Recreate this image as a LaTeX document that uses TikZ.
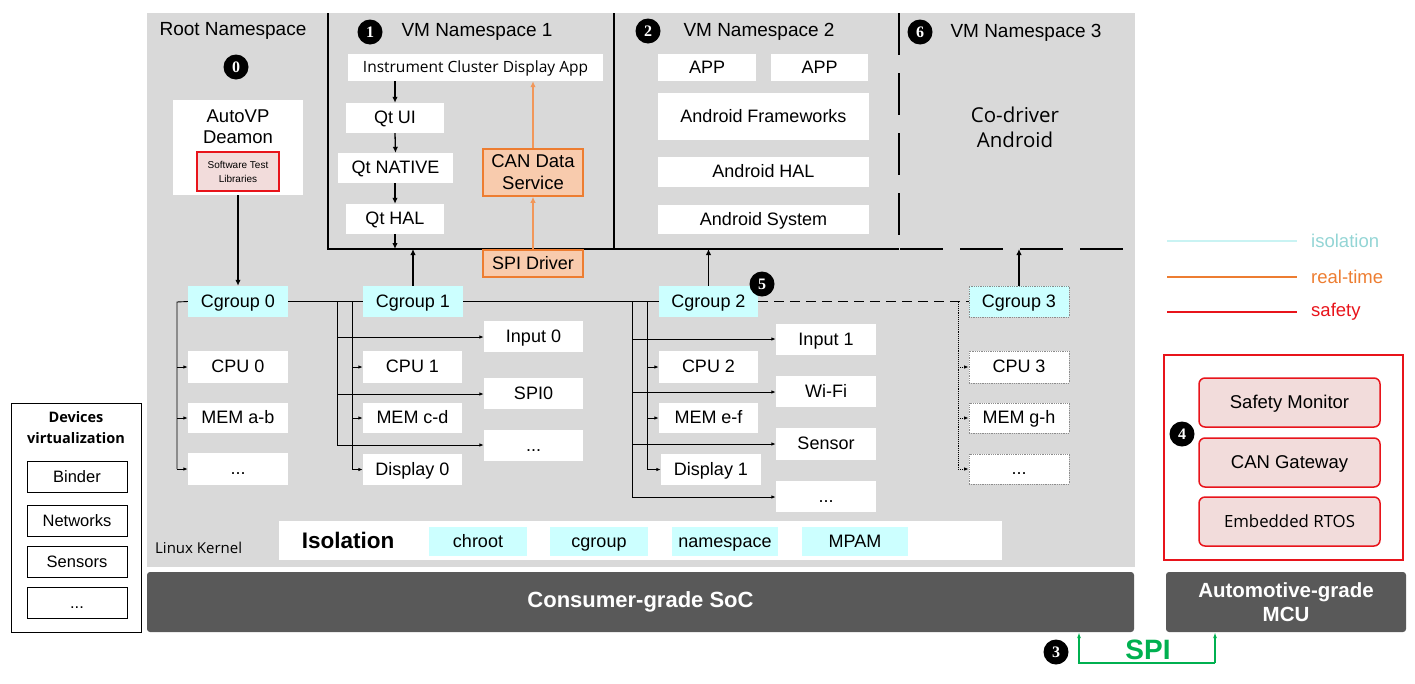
\documentclass[tikz,border=0pt]{standalone}
\usepackage{fontspec}
\setmainfont{Liberation Sans}
\newfontfamily\seg{Open Sans}
\newfontfamily\serifb{Liberation Serif}
\usetikzlibrary{arrows.meta}
\definecolor{bggray}{HTML}{D9D9D9}
\definecolor{darkbox}{HTML}{595959}
\definecolor{cy}{HTML}{CCFFFF}
\definecolor{pinkf}{HTML}{F2DCDB}
\definecolor{orf}{HTML}{F8CBAD}
\definecolor{ord}{HTML}{ED7D31}
\definecolor{redd}{HTML}{E8141B}
\definecolor{grn}{HTML}{00B050}
\definecolor{isoline}{HTML}{C9F3F3}
\definecolor{isotext}{HTML}{93D5D5}
\definecolor{dotgray}{HTML}{8C8C8C}
\newcommand\fs[2]{\fontsize{#1}{#2}\selectfont}
\newcommand\bx[7]{\node[#6, minimum width={(#4)-(#2)}, minimum height={(#5)-(#3)}] (#1) at ({((#2)+(#4))/2},{((#3)+(#5))/2}) {#7};}
\tikzset{
  base/.style={inner sep=0pt, align=center, font=\fs{18}{21}},
  sl/.style={text height=15.5pt, text depth=3.7pt},
  wb/.style={base, sl, fill=white},
  cgb/.style={base, sl, fill=cy},
  dotb/.style={base, sl, fill=white, draw=dotgray, densely dotted, line width=0.8pt},
  orb/.style={base, fill=orf, draw=ord, line width=1.5pt},
  redb/.style={base, sl, fill=pinkf, draw=redd, line width=1.5pt, rounded corners=6pt, font=\fs{18.5}{21}},
  dkb/.style={base, fill=darkbox, rounded corners=3pt, text=white},
  devb/.style={base, sl, fill=white, draw=black, line width=0.8pt, font=\fs{16.5}{19}},
  circ/.style={circle, fill=black, minimum size=25pt, inner sep=0pt, text=white, font=\serifb\bfseries\fs{16}{16}},
  arr/.style={-{Latex[length=6pt,width=5.5pt]}, line width=1.3pt},
  oarr/.style={-{Latex[length=6pt,width=5.5pt]}, line width=1.3pt, draw=ord!80},
  sarr/.style={-{Latex[length=4.5pt,width=3.5pt]}, line width=0.9pt},
  darr/.style={-{Latex[length=4.5pt,width=3.5pt]}, line width=0.9pt, densely dotted},
  garr/.style={-{Latex[length=6pt,width=4pt]}, line width=1.3pt, draw=grn},
  tree/.style={line width=0.9pt},
  frame/.style={line width=1.8pt},
  ttl/.style={inner sep=0pt, font=\fs{19}{21}},
}
\begin{document}
\begin{tikzpicture}[x=1pt,y=-1pt]
\useasboundingbox (0,0) rectangle (1415,683);
% background
\fill[bggray] (147,13) rectangle (1135,567);
% namespace frames
\draw[frame] (328,13) -- (328,249) -- (899,249);
\draw[frame] (614,13) -- (614,249);
\draw[frame, dash pattern=on 42pt off 18pt] (899,13) -- (899,249);
\draw[frame, dash pattern=on 43pt off 17pt] (900,249) -- (1132,249);
\coordinate (nsline) at (328,249);
% titles
\node[ttl] (rootns) at (233,31) {Root Namespace};
\node[ttl] (ns1t) at (477,32) {VM Namespace 1};
\node[ttl] (ns2t) at (759,32) {VM Namespace 2};
\node[ttl] (ns3t) at (1026,33) {VM Namespace 3};
\node[circ] (c0) at (236,67) {0};
\node[circ] (c1) at (370,32) {1};
\node[circ] (c2) at (648,31) {2};
\node[circ] (c6) at (920,32) {6};
% root namespace
\bx{autovp}{173}{100}{303}{195}{base, fill=white}{}
\node[base, font=\fs{18.5}{21}] (autovpt) at (238,126.5) {AutoVP\\Deamon};
\bx{stl}{197}{152}{279}{191}{base, fill=pinkf, draw=redd, line width=1.5pt, font=\fs{10}{14}}{Software Test\\Libraries}
% NS1
\bx{app}{348}{54}{603}{81}{wb, font=\seg\fs{15.5}{17}, text height=14pt, text depth=4pt}{Instrument Cluster Display App}
\bx{qtui}{346}{103}{444}{133}{wb}{Qt UI}
\bx{qtnat}{338}{153}{453}{183}{wb}{Qt NATIVE}
\bx{qthal}{346}{204}{444}{234}{wb}{Qt HAL}
\bx{can}{483}{149}{583}{196}{orb, font=\fs{18.5}{22}}{CAN Data\\Service}
\bx{spi}{483}{250}{583}{277}{orb, sl}{SPI Driver}
\draw[arr] (app.south -| qtui.north) -- (qtui.north);
\draw[arr] (qtui.south) -- (qtnat.north);
\draw[arr] (qtnat.south -| qthal.north) -- (qthal.north);
\draw[arr] (qthal.south) -- (qthal.south |- nsline);
\draw[oarr] (spi.north) -- (can.south);
\draw[oarr] (can.north) -- (can.north |- app.south);
% NS2
\bx{app1}{658}{54}{756}{81}{wb}{APP}
\bx{app2}{771}{54}{868}{81}{wb}{APP}
\bx{afw}{658}{93}{869}{140}{wb}{Android Frameworks}
\bx{ahal}{658}{157}{869}{187}{wb}{Android HAL}
\bx{asys}{658}{205}{869}{234}{wb}{Android System}
% NS3
\node[base, font=\seg\fs{20.5}{25}] (codrv) at (1015,127) {Co-driver\\Android};
% cgroups
\bx{cg0}{188}{286}{288}{317}{cgb}{Cgroup 0}
\bx{cg1}{363}{286}{463}{317}{cgb}{Cgroup 1}
\bx{cg2}{659}{286}{758}{317}{cgb}{Cgroup 2}
\bx{cg3}{969}{286}{1069}{317}{cgb, draw=dotgray, densely dotted, line width=0.8pt}{Cgroup 3}
\node[circ] (c5) at (762,284) {5};
\draw[arr] (autovp.south) -- (cg0.north);
\draw[arr] (cg1.north) -- (cg1.north |- nsline);
\draw[arr] (cg2.north) -- (cg2.north |- nsline);
\draw[arr] (cg3.north) -- (cg3.north |- nsline);
\draw[tree, line width=1.3pt] (cg0.east) -- (cg1.west);
\draw[tree, line width=1.3pt] (cg1.east) -- (cg2.west);
\draw[tree, line width=1.3pt, dash pattern=on 10pt off 6pt] (cg2.east) -- (cg3.west);
% cgroup 0 children
\bx{cpu0}{188}{351}{288}{383}{wb}{CPU 0}
\bx{mem0}{188}{403}{288}{433}{wb}{MEM a-b}
\bx{dot0}{188}{453}{288}{485}{wb}{...}
\coordinate (t0) at (177,302);
\draw[tree] (cg0.west) -- (t0) -- (t0 |- dot0.west);
\draw[sarr] (t0 |- cpu0.west) -- (cpu0.west);
\draw[sarr] (t0 |- mem0.west) -- (mem0.west);
\draw[sarr] (t0 |- dot0.west) -- (dot0.west);
% cgroup 1 children
\bx{cpu1}{363}{351}{462}{383}{wb}{CPU 1}
\bx{mem1}{363}{403}{462}{433}{wb}{MEM c-d}
\bx{disp0}{363}{454}{462}{485}{wb}{Display 0}
\bx{in0}{484}{321}{583}{352}{wb}{Input 0}
\bx{spi0}{484}{378}{583}{409}{wb}{SPI0}
\bx{dot1}{484}{430}{583}{461}{wb}{...}
\coordinate (t1a) at (337,302);
\coordinate (t1b) at (352,302);
\draw[tree] (t1a) -- (t1a |- 0,445);
\draw[tree] (t1b) -- (t1b |- disp0.west);
\draw[sarr] (t1a |- 0,337) -- (in0.west |- 0,337);
\draw[sarr] (t1a |- 0,394) -- (spi0.west |- 0,394);
\draw[sarr] (t1a |- 0,445) -- (dot1.west |- 0,445);
\draw[sarr] (t1b |- cpu1.west) -- (cpu1.west);
\draw[sarr] (t1b |- mem1.west) -- (mem1.west);
\draw[sarr] (t1b |- disp0.west) -- (disp0.west);
% cgroup 2 children
\bx{cpu2}{659}{351}{758}{383}{wb}{CPU 2}
\bx{mem2}{659}{403}{758}{433}{wb}{MEM e-f}
\bx{disp1}{661}{454}{761}{485}{wb}{Display 1}
\bx{in1}{776}{324}{876}{355}{wb}{Input 1}
\bx{wifi}{776}{376}{876}{407}{wb}{Wi-Fi}
\bx{sens}{776}{428}{876}{460}{wb}{Sensor}
\bx{dot2}{776}{481}{876}{512}{wb}{...}
\coordinate (t2a) at (632,302);
\coordinate (t2b) at (647,302);
\draw[tree] (t2a) -- (t2a |- 0,497);
\draw[tree] (t2b) -- (t2b |- disp1.west);
\draw[sarr] (t2a |- 0,339) -- (in1.west |- 0,339);
\draw[sarr] (t2a |- 0,392) -- (wifi.west |- 0,392);
\draw[sarr] (t2a |- 0,444) -- (sens.west |- 0,444);
\draw[sarr] (t2a |- 0,497) -- (dot2.west |- 0,497);
\draw[sarr] (t2b |- cpu2.west) -- (cpu2.west);
\draw[sarr] (t2b |- mem2.west) -- (mem2.west);
\draw[sarr] (t2b |- disp1.west) -- (disp1.west);
% cgroup 3 children
\bx{cpu3}{969}{351}{1069}{383}{dotb}{CPU 3}
\bx{mem3}{969}{403}{1069}{433}{dotb}{MEM g-h}
\bx{dot3}{969}{454}{1069}{484}{dotb}{...}
\coordinate (t3) at (958,302);
\draw[tree, densely dotted] (t3) -- (t3 |- dot3.west);
\draw[darr] (t3 |- cpu3.west) -- (cpu3.west);
\draw[darr] (t3 |- mem3.west) -- (mem3.west);
\draw[darr] (t3 |- dot3.west) -- (dot3.west);
% kernel
\node[inner sep=0pt, anchor=west, font=\seg\fs{15}{17}] (lk) at (155,548) {Linux Kernel};
\bx{isobar}{279}{521}{1002}{560}{fill=white}{}
\node[inner sep=0pt, font=\bfseries\fs{22.5}{24}] (isot) at (348,540) {Isolation};
\bx{chroot}{429}{527}{527}{556}{cgb}{chroot}
\bx{cgrp}{550}{527}{648}{556}{cgb}{cgroup}
\bx{nsp}{672}{527}{778}{556}{cgb}{namespace}
\bx{mpam}{802}{527}{908}{556}{cgb}{MPAM}
% hardware
\bx{soc}{147}{572}{1134}{632}{dkb, font=\bfseries\fs{22}{24}}{Consumer-grade SoC}
\bx{mcu}{1166}{572}{1406}{632}{dkb, font=\bfseries\fs{20.5}{24}}{Automotive-grade\\MCU}
% legend
\coordinate (l1) at (1167,241);
\coordinate (l2) at (1167,277);
\coordinate (l3) at (1167,312);
\draw[isoline, line width=1.5pt] (l1) -- ++(130,0) coordinate (l1e);
\draw[ord, line width=1.5pt] (l2) -- ++(130,0) coordinate (l2e);
\draw[redd, line width=1.5pt] (l3) -- ++(130,0) coordinate (l3e);
\node[inner sep=0pt, anchor=west, text=isotext, font=\fs{18.5}{20}] (lt1) at (1311,241) {isolation};
\node[inner sep=0pt, anchor=west, text=ord, font=\fs{18.5}{20}] (lt2) at (1311,277) {real-time};
\node[inner sep=0pt, anchor=west, text=redd, font=\fs{18.5}{20}] (lt3) at (1311,312) {safety};
% MCU software
\bx{mcusw}{1164}{355}{1403}{560}{draw=redd, line width=1.5pt}{}
\bx{safem}{1199}{378}{1380}{427}{redb}{Safety Monitor}
\bx{cangw}{1199}{438}{1380}{487}{redb}{CAN Gateway}
\bx{rtos}{1199}{497}{1380}{546}{redb, font=\seg\fs{16.8}{18}, text height=15pt, text depth=4pt}{Embedded RTOS}
\node[circ] (c4) at (1182,434) {4};
% devices virtualization
\bx{devv}{11}{403}{141}{632}{fill=white, draw=black, line width=0.8pt}{}
\node[base, font=\seg\bfseries\fs{14.5}{21}] (devt) at (76,427.5) {Devices\\virtualization};
\bx{binder}{27}{461}{127}{492}{devb}{Binder}
\bx{netw}{27}{505}{127}{536}{devb}{Networks}
\bx{sensd}{27}{546}{127}{577}{devb}{Sensors}
\bx{dotd}{27}{587}{127}{618}{devb}{...}
% SPI
\coordinate (spiL) at (1079,663);
\coordinate (spiR) at (1215,663);
\draw[garr] (spiR) -- (spiL) -- (spiL |- soc.south);
\draw[garr] (spiR) -- (spiR |- mcu.south);
\node[inner sep=0pt, text=grn, font=\bfseries\fs{28}{30}] (spit) at (1148,650) {SPI};
\node[circ] (c3) at (1056,652) {3};
\end{tikzpicture}
\end{document}
